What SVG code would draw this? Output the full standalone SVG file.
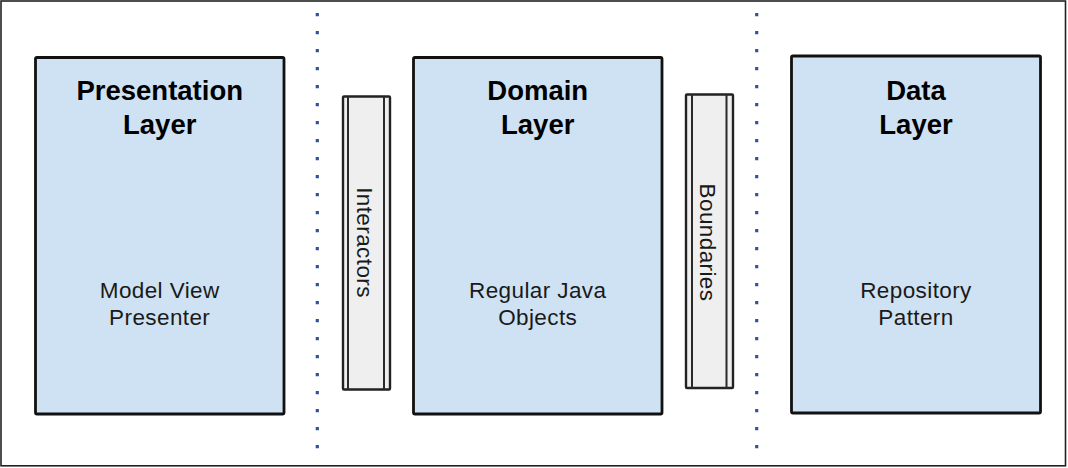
<svg xmlns="http://www.w3.org/2000/svg" width="1068" height="468" viewBox="0 0 1068 468">
  <defs>
    <style>
      .layer { fill: #cfe2f3; stroke: #111; stroke-width: 2.8; }
      .bar { fill: #efefef; stroke: #222; stroke-width: 2.4; }
      .bar-edge { stroke: #2a2a2a; stroke-width: 2; fill: none; }
      .title { font-family: "Liberation Sans", Arial, sans-serif; font-weight: bold; font-size: 27.5px; fill: #000; text-anchor: middle; }
      .body { font-family: "Liberation Sans", Arial, sans-serif; font-size: 22.5px; fill: #1a1a1a; text-anchor: middle; letter-spacing: 0.4px; }
      .divider { stroke: #2f559a; stroke-width: 3.2; stroke-dasharray: 3.2 14.8; fill: none; }
    </style>
  </defs>

  <rect x="0" y="0" width="1068" height="468" fill="#fff"/>
  <!-- frame -->
  <rect x="1" y="1" width="1064.5" height="464.8" fill="none" stroke="#222" stroke-width="1.6"/>

  <!-- dotted separators -->
  <g id="connectors">
    <line class="divider" x1="317.3" y1="13.1" x2="317.3" y2="449"/>
    <line class="divider" x1="756.7" y1="13.1" x2="756.7" y2="449"/>
  </g>

  <g id="presentation">
    <rect class="layer" x="35.5" y="57.5" width="248.5" height="356.5" rx="1.5"/>
    <text class="title" x="159.7" y="100">Presentation</text>
    <text class="title" x="159.7" y="133.5">Layer</text>
    <text class="body" x="159.7" y="297.7">Model View</text>
    <text class="body" x="159.7" y="325.2">Presenter</text>
  </g>

  <g id="interactors">
    <rect class="bar" x="343" y="96.5" width="47" height="293" rx="1"/>
    <line class="bar-edge" x1="348" y1="96.5" x2="348" y2="389.5"/>
    <line class="bar-edge" x1="384" y1="96.5" x2="384" y2="389.5"/>
    <text class="body" transform="translate(357,242.5) rotate(90)" x="0" y="0">Interactors</text>
  </g>

  <g id="domain">
    <rect class="layer" x="413.5" y="57.5" width="248.5" height="356.5" rx="1.5"/>
    <text class="title" x="537.7" y="100">Domain</text>
    <text class="title" x="537.7" y="133.5">Layer</text>
    <text class="body" x="537.7" y="297.7">Regular Java</text>
    <text class="body" x="537.7" y="325.2">Objects</text>
  </g>

  <g id="boundaries">
    <rect class="bar" x="686" y="94.5" width="47" height="293.5" rx="1"/>
    <line class="bar-edge" x1="692" y1="94.5" x2="692" y2="388"/>
    <line class="bar-edge" x1="726.5" y1="94.5" x2="726.5" y2="388"/>
    <text class="body" transform="translate(699.5,242.5) rotate(90)" x="0" y="0">Boundaries</text>
  </g>

  <g id="data">
    <rect class="layer" x="791.5" y="56" width="249" height="357" rx="1.5"/>
    <text class="title" x="916" y="100">Data</text>
    <text class="title" x="916" y="133.5">Layer</text>
    <text class="body" x="916" y="297.7">Repository</text>
    <text class="body" x="916" y="325.2">Pattern</text>
  </g>
</svg>
